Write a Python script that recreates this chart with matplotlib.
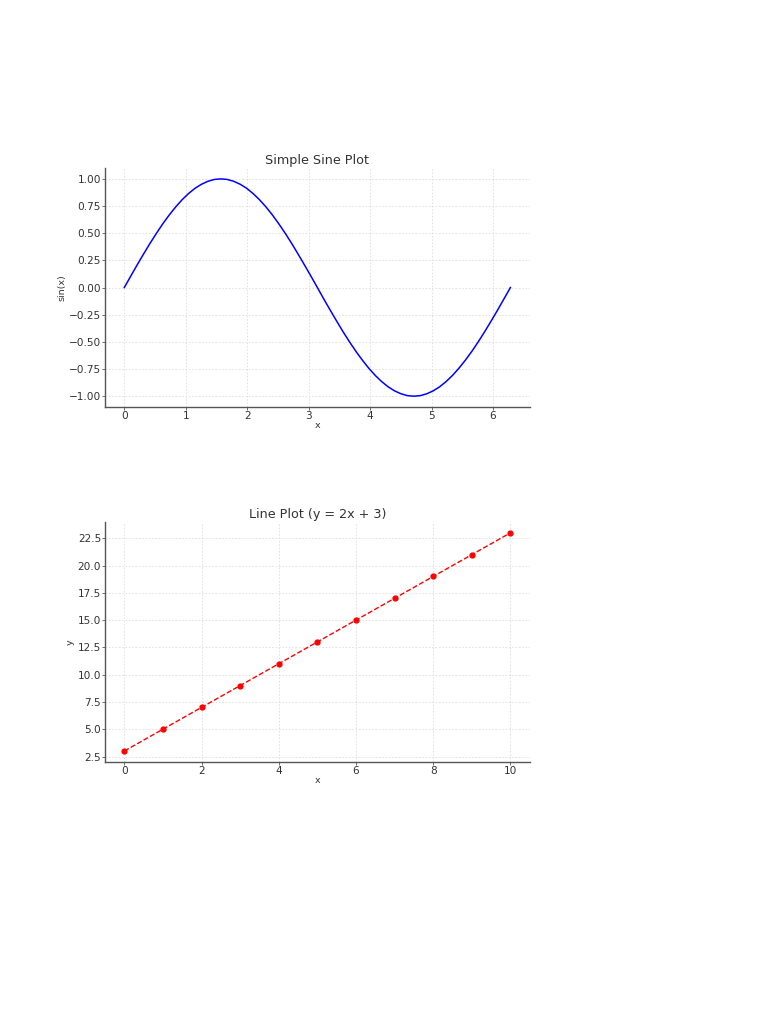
import matplotlib
matplotlib.use("Agg")
import matplotlib.pyplot as plt

# Sine curve samples
sine_x = [0.000, 0.105, 0.209, 0.314, 0.419, 0.524, 0.628, 0.733, 0.838, 0.942,
          1.047, 1.152, 1.257, 1.361, 1.466, 1.571, 1.676, 1.780, 1.885, 1.990,
          2.094, 2.199, 2.304, 2.409, 2.513, 2.618, 2.723, 2.827, 2.932, 3.037,
          3.142, 3.246, 3.351, 3.456, 3.560, 3.665, 3.770, 3.875, 3.979, 4.084,
          4.189, 4.294, 4.398, 4.503, 4.608, 4.712, 4.817, 4.922, 5.027, 5.131,
          5.236, 5.341, 5.445, 5.550, 5.655, 5.760, 5.864, 5.969, 6.074, 6.178,
          6.283]
sine_y = [0.000, 0.105, 0.208, 0.309, 0.407, 0.500, 0.588, 0.669, 0.743, 0.809,
          0.866, 0.914, 0.951, 0.978, 0.995, 1.000, 0.995, 0.978, 0.951, 0.914,
          0.866, 0.809, 0.743, 0.669, 0.588, 0.500, 0.407, 0.309, 0.208, 0.105,
          0.000, -0.105, -0.208, -0.309, -0.407, -0.500, -0.588, -0.669, -0.743, -0.809,
          -0.866, -0.914, -0.951, -0.978, -0.995, -1.000, -0.995, -0.978, -0.951, -0.914,
          -0.866, -0.809, -0.743, -0.669, -0.588, -0.500, -0.407, -0.309, -0.208, -0.105,
          0.000]

# Line plot points
line_x = [0, 1, 2, 3, 4, 5, 6, 7, 8, 9, 10]
line_y = [3, 5, 7, 9, 11, 13, 15, 17, 19, 21, 23]

sine_yticks = [-1.00, -0.75, -0.50, -0.25, 0.00, 0.25, 0.50, 0.75, 1.00]
sine_xticks = [0, 1, 2, 3, 4, 5, 6]
line_yticks = [2.5, 5.0, 7.5, 10.0, 12.5, 15.0, 17.5, 20.0, 22.5]
line_xticks = [0, 2, 4, 6, 8, 10]

TEXT = "#333333"
SPINE = "#555555"

fig = plt.figure(figsize=(7.68, 10.24), dpi=100)
fig.patch.set_facecolor("white")

def style(ax):
    for s in ["top", "right"]:
        ax.spines[s].set_visible(False)
    for s in ["left", "bottom"]:
        ax.spines[s].set_color(SPINE)
        ax.spines[s].set_linewidth(1.0)
    ax.tick_params(axis="both", colors=SPINE, labelcolor=TEXT, labelsize=7.6,
                   length=2.0, width=0.6, direction="out", pad=0.8)
    ax.grid(True, linestyle=(0, (2, 2)), color="#dddddd", linewidth=0.6)
    ax.set_axisbelow(True)

ax1 = fig.add_axes([0.1367, 0.6025, 0.553, 0.2334])
ax1.plot(sine_x, sine_y, color="blue", linewidth=1.1)
ax1.set_xticks(sine_xticks)
ax1.set_yticks(sine_yticks)
ax1.set_yticklabels([f"{v:.2f}".replace("-", "\u2212") for v in sine_yticks])
ax1.set_title("Simple Sine Plot", fontsize=9.2, color=TEXT, pad=3)
ax1.set_xlabel("x", fontsize=6.8, color=TEXT, labelpad=0)
ax1.set_ylabel("sin(x)", fontsize=6.8, color=TEXT, labelpad=2)
style(ax1)

ax2 = fig.add_axes([0.1367, 0.2559, 0.553, 0.2344])
ax2.plot(line_x, line_y, color="red", linestyle="--", linewidth=1.0,
         marker="o", markersize=3.5)
ax2.set_xticks(line_xticks)
ax2.set_yticks(line_yticks)
ax2.set_title("Line Plot (y = 2x + 3)", fontsize=9.2, color=TEXT, pad=3)
ax2.set_xlabel("x", fontsize=6.8, color=TEXT, labelpad=0)
ax2.set_ylabel("y", fontsize=6.8, color=TEXT, labelpad=2)
style(ax2)

fig.savefig("out.png", dpi=100, facecolor="white")
